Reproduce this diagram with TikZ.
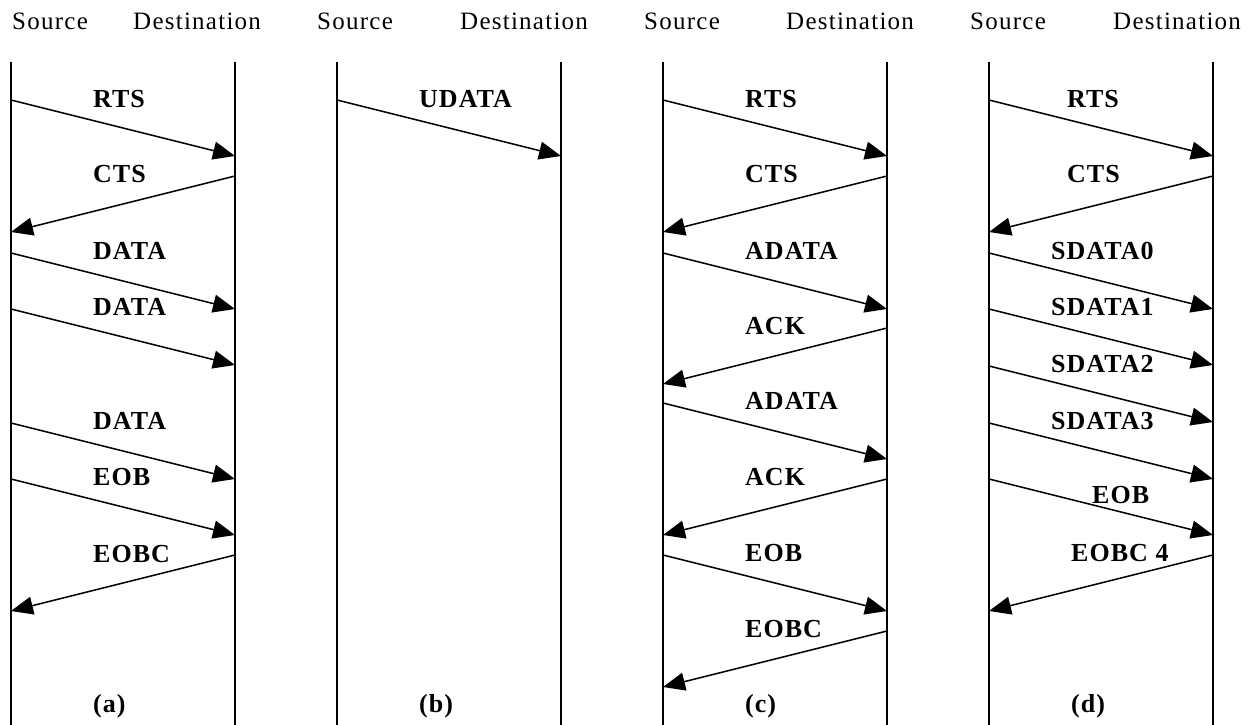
\documentclass[tikz,border=0pt]{standalone}
\usepackage{fontspec}
\setmainfont{Liberation Serif}
\newfontfamily\hdrfamily[LetterSpace=5]{Liberation Serif}
\newfontfamily\lblfamily[LetterSpace=4]{Liberation Serif}
\usepackage{tikz}
\usetikzlibrary{arrows.meta,positioning,calc}
\tikzset{lifeline/.style={line width=1.8pt},
	msg/.style={line width=1.5pt,-{Triangle[length=22pt,width=18pt]}},
	hdr/.style={font=\hdrfamily\fontsize{25}{30}\selectfont,anchor=base west,inner sep=0pt},
	lbl/.style={font=\lblfamily\bfseries\fontsize{26}{31}\selectfont,anchor=base west,inner sep=0pt}}

\begin{document}
\begin{tikzpicture}[x=1pt,y=-1pt]
		\useasboundingbox (0,0) rectangle (1254,725);
		% lifelines, headers and panel tags
		\foreach \p/\sx/\hs/\hd in {a/11/12/133,b/337/317/460,c/663/644/786,d/989/970/1113} {
			\coordinate (\p src top) at (\sx,62);
			\coordinate (\p src bot) at (\sx,725);
			\coordinate (\p dst top) at (\sx+224,62);
			\coordinate (\p dst bot) at (\sx+224,725);
			\draw[lifeline] (\p src top) to (\p src bot);
			\draw[lifeline] (\p dst top) to (\p dst bot);
			\node[hdr] (\p src hdr) at (\hs,30) {Source};
			\node[hdr] (\p dst hdr) at (\hd,30) {Destination};
			\node[lbl] (\p tag) at (\sx+82,712) {(\p)};
		}
		
		% source to destination
		\foreach \sx/\y/\txt/\dx/\dy [count=\i] in {11/100/RTS/82/7,11/253/DATA/82/6,11/309/DATA/82/6,11/423/DATA/82/6,11/479/EOB/82/6,
			337/100/UDATA/82/7,
			663/100/RTS/82/7,663/253/ADATA/82/6,663/403/ADATA/82/6,663/555/EOB/82/6,
			989/100/RTS/78/7,989/253/SDATA0/62/6,989/309/SDATA1/62/6,989/366/SDATA2/62/6,989/423/SDATA3/62/6,989/479/EOB/103/24} {
			\coordinate (r\i from) at (\sx,\y);
			\coordinate (r\i to) at (\sx+224,\y+56);
			\draw[msg] (r\i from) to (r\i to);
			\node[lbl] (r\i lbl) at (\sx+\dx,\y+\dy) {\txt};
		}
		
		% destination to source
		\foreach \sx/\y/\txt/\dx/\dy [count=\i] in {11/176/CTS/82/6,11/555/EOBC/82/7,
			663/176/CTS/82/6,663/328/ACK/82/6,663/479/ACK/82/6,663/631/EOBC/82/6,
			989/176/CTS/78/6,989/555/EOBC 4/82/6} {
			\coordinate (l\i from) at (\sx+224,\y);
			\coordinate (l\i to) at (\sx,\y+56);
			\draw[msg] (l\i from) to (l\i to);
			\node[lbl] (l\i lbl) at (\sx+\dx,\y+\dy) {\txt};
		}
\end{tikzpicture}
\end{document}
